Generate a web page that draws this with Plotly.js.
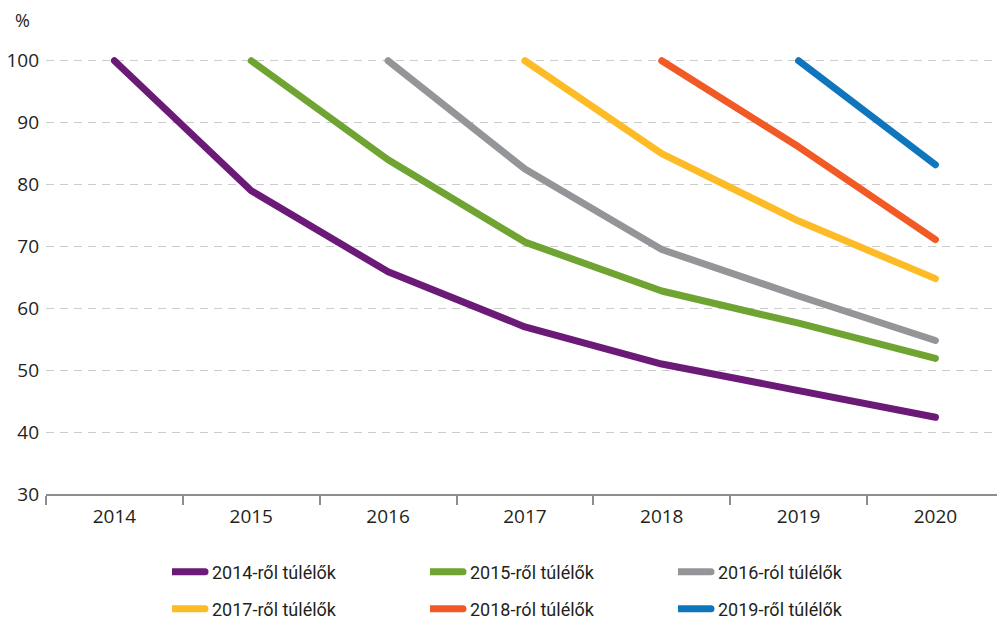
<!DOCTYPE html>
<html>
<head>
<meta charset="utf-8">
<script src="https://cdn.plot.ly/plotly-3.0.1.min.js"></script>
<style>
html,body{margin:0;padding:0;background:#fff;overflow:hidden;}
#chart{width:997px;height:620px;}
.scatterlayer path.js-line{stroke-linecap:round !important;stroke-linejoin:round !important;}
.infolayer path.js-line{stroke-linecap:round !important;}
</style>
</head>
<body>
<div id="chart"></div>
<script>
const years = ["2014","2015","2016","2017","2018","2019","2020"];
const seriesNames = ["2014-ről túlélők","2015-ről túlélők","2016-ról túlélők","2017-ről túlélők","2018-ról túlélők","2019-ről túlélők"];
const s2014 = [100, 79.0, 65.9, 57.0, 51.0, 46.8, 42.4];
const s2015 = [null, 100, 84.0, 70.7, 62.8, 57.6, 51.9];
const s2016 = [null, null, 100, 82.5, 69.5, 62.0, 54.8];
const s2017 = [null, null, null, 100, 85.0, 74.1, 64.8];
const s2018 = [null, null, null, null, 100, 86.1, 71.1];
const s2019 = [null, null, null, null, null, 100, 83.2];
const yTicks = [30, 40, 50, 60, 70, 80, 90, 100];

const seriesValues = [s2014, s2015, s2016, s2017, s2018, s2019];
const colors = ["#6b1a77", "#6fa332", "#939598", "#fdbb26", "#f15a24", "#0f76bd"];
const legendIds = ["legend", "legend2", "legend3", "legend4", "legend5", "legend6"];

const traces = seriesValues.map((vals, i) => ({
  type: "scatter",
  mode: "lines",
  x: years,
  y: vals,
  name: seriesNames[i],
  line: {color: colors[i], width: 7},
  legend: legendIds[i],
  hoverinfo: "skip"
}));

const legendFont = {family: "Roboto, sans-serif", size: 18, color: "#231f20"};
const plotL = 46, plotW = 951, plotB = 494, plotH = 458;
const legendColsPx = [172, 430, 678];
const legendRowsPx = [572, 609];

const layout = {
  width: 997,
  height: 620,
  margin: {l: plotL, r: 997 - plotL - plotW, t: plotB - plotH, b: 620 - plotB, autoexpand: false},
  paper_bgcolor: "#fff",
  plot_bgcolor: "#fff",
  font: {family: "'Open Sans', 'Noto Sans', sans-serif", size: 19, color: "#231f20"},
  showlegend: true,
  xaxis: {
    type: "category",
    range: [-0.5, 6.45],
    showgrid: false,
    zeroline: false,
    showline: true,
    linecolor: "#8d8d8f",
    linewidth: 2,
    ticks: "outside",
    tickson: "boundaries",
    ticklen: 9,
    tickwidth: 2,
    tickcolor: "#8d8d8f",
    ticklabelstandoff: 4,
    tickfont: {size: 19, color: "#231f20"},
    fixedrange: true
  },
  yaxis: {
    range: [30, 104],
    tickvals: yTicks,
    ticktext: yTicks.map(String),
    showgrid: true,
    gridcolor: "#cccccc",
    gridwidth: 1,
    griddash: "8px,6px",
    zeroline: false,
    showline: false,
    ticks: "",
    ticklabelstandoff: 6,
    tickfont: {size: 19, color: "#231f20"},
    fixedrange: true
  },
  annotations: [{
    text: "%",
    xref: "paper", yref: "paper",
    x: (22 - plotL) / plotW, y: (plotB - 20) / plotH,
    xanchor: "center", yanchor: "middle",
    showarrow: false,
    font: {size: 18, color: "#231f20"}
  }]
};

legendIds.forEach((id, i) => {
  const col = i % 3, row = Math.floor(i / 3);
  layout[id] = {
    orientation: "h",
    x: (legendColsPx[col] - plotL) / plotW, xanchor: "left",
    y: (plotB - legendRowsPx[row]) / plotH, yanchor: "middle",
    font: legendFont,
    bgcolor: "rgba(0,0,0,0)",
    borderwidth: 0
  };
});

const gdEl = document.getElementById("chart");
function stretchLegendLines() {
  gdEl.querySelectorAll(".infolayer path.js-line").forEach(p => {
    if (p.getAttribute("d") !== "M-14,0h47") p.setAttribute("d", "M-14,0h47");
  });
}
Plotly.newPlot(gdEl, traces, layout, {displayModeBar: false, staticPlot: true}).then(() => {
  stretchLegendLines();
  gdEl.on("plotly_afterplot", stretchLegendLines);
  setTimeout(stretchLegendLines, 30);
  setTimeout(stretchLegendLines, 200);
});
</script>
</body>
</html>
